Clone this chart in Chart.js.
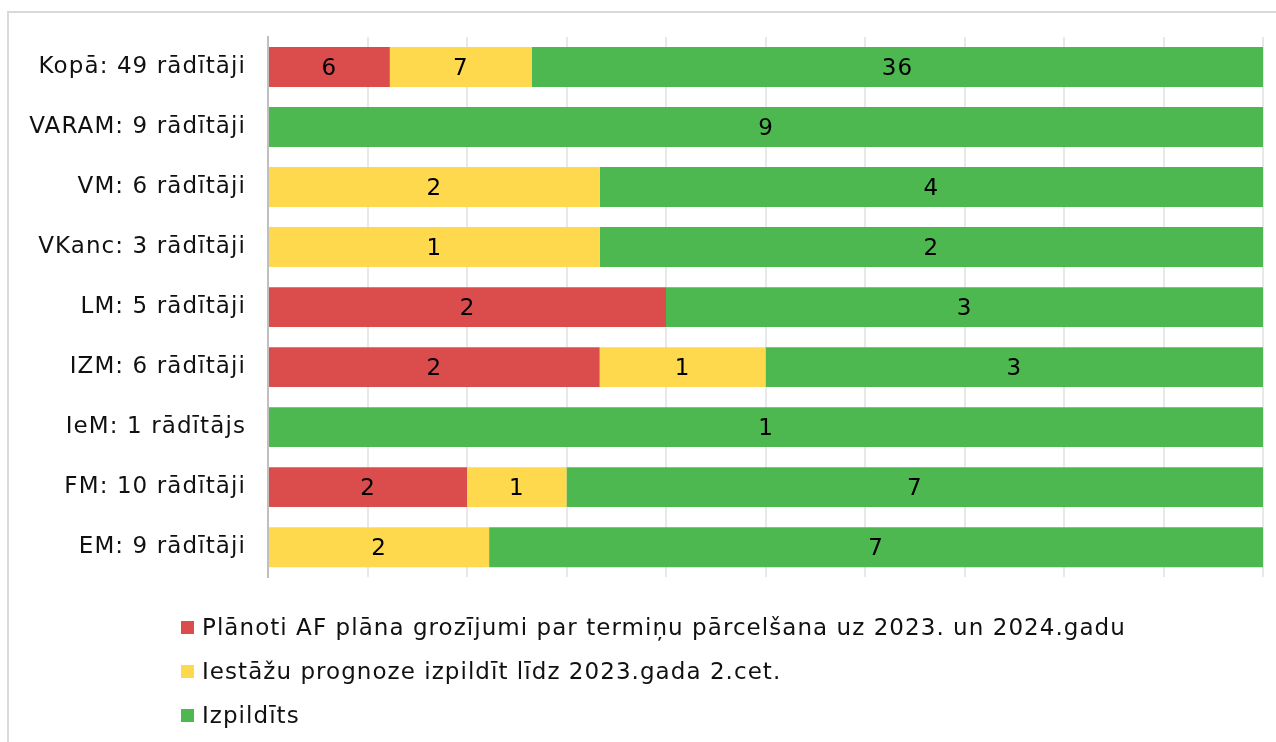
<!DOCTYPE html>
<html>
<head>
<meta charset="utf-8">
<script src="https://cdn.jsdelivr.net/npm/chart.js@4"></script>
<style>
  html, body { margin: 0; padding: 0; background: #fff; width: 1276px; height: 742px; overflow: hidden; }
  #frame { position: absolute; left: 7px; top: 11px; width: 1300px; height: 760px; border: 2px solid #d9d9d9; box-sizing: border-box; }
  #wrap { position: absolute; left: 0; top: 0; width: 1276px; height: 613px; }
  #legend { position: absolute; left: 181px; top: 605px; font-family: "DejaVu Sans", Verdana, sans-serif; font-size: 23px; letter-spacing: 1.05px; color: #111; }
  #legend .item { height: 44px; display: flex; align-items: center; }
  #legend .box { width: 13px; height: 13px; margin-right: 8px; }
</style>
</head>
<body>
<div id="frame"></div>
<div id="wrap"><canvas id="c"></canvas></div>
<div id="legend"></div>
<script>
const categories = [
  "Kopā: 49 rādītāji",
  "VARAM: 9 rādītāji",
  "VM: 6 rādītāji",
  "VKanc: 3 rādītāji",
  "LM: 5 rādītāji",
  "IZM: 6 rādītāji",
  "IeM: 1 rādītājs",
  "FM: 10 rādītāji",
  "EM: 9 rādītāji"
];
const seriesNames = [
  "Plānoti AF plāna grozījumi par termiņu pārcelšana uz 2023. un 2024.gadu",
  "Iestāžu prognoze izpildīt līdz 2023.gada 2.cet.",
  "Izpildīts"
];
const plannedCounts  = [6, 0, 0, 0, 2, 2, 0, 2, 0];
const forecastCounts = [7, 0, 2, 1, 0, 1, 0, 1, 2];
const doneCounts     = [36, 9, 4, 2, 3, 3, 1, 7, 7];
const colors = ["#DB4D4D", "#FFD94D", "#4DB84F"];

const countSets = [plannedCounts, forecastCounts, doneCounts];
const totals = categories.map((_, i) => countSets.reduce((s, a) => s + a[i], 0));

const datasets = countSets.map((counts, k) => ({
  label: seriesNames[k],
  counts: counts,
  data: counts.map((v, i) => v / totals[i] * 100),
  backgroundColor: colors[k],
  borderWidth: 0,
  categoryPercentage: 1,
  barPercentage: 0.665
}));

const FONT = '"DejaVu Sans", Verdana, sans-serif';
const SPACING = '1.1px';

const spacingPlugin = {
  id: 'spacing',
  beforeDraw(chart) { chart.ctx.letterSpacing = SPACING; }
};

const labelPlugin = {
  id: 'segLabels',
  afterDatasetsDraw(chart) {
    const ctx = chart.ctx;
    ctx.save();
    ctx.letterSpacing = SPACING;
    ctx.font = '23px ' + FONT;
    ctx.fillStyle = '#000';
    ctx.textAlign = 'center';
    ctx.textBaseline = 'middle';
    chart.data.datasets.forEach((ds, di) => {
      const meta = chart.getDatasetMeta(di);
      meta.data.forEach((bar, i) => {
        const c = ds.counts[i];
        if (!c) return;
        const x = (bar.x + bar.base) / 2;
        ctx.fillText(String(c), x, bar.y + 2);
      });
    });
    ctx.restore();
  }
};

new Chart(document.getElementById('c'), {
  type: 'bar',
  data: { labels: categories, datasets: datasets },
  options: {
    indexAxis: 'y',
    responsive: true,
    maintainAspectRatio: false,
    animation: false,
    layout: { padding: { left: 0, right: 13, top: 37, bottom: 12 } },
    plugins: {
      legend: { display: false },
      tooltip: { enabled: false }
    },
    scales: {
      x: {
        stacked: true,
        min: 0,
        max: 100,
        z: 1,
        afterFit(scale) { scale.height = 0; },
        ticks: { display: false, stepSize: 10 },
        grid: { color: 'rgba(0,0,0,0.09)', lineWidth: 2, drawTicks: false },
        border: { display: false }
      },
      y: {
        stacked: true,
        afterFit(scale) { scale.width = 268; },
        ticks: { font: { family: FONT, size: 23 }, color: '#111', padding: 22 },
        grid: { display: false, drawTicks: false },
        border: { display: true, color: '#bfbfbf', width: 2 }
      }
    }
  },
  plugins: [spacingPlugin, labelPlugin]
});

const leg = document.getElementById('legend');
seriesNames.forEach((n, k) => {
  const it = document.createElement('div');
  it.className = 'item';
  const b = document.createElement('span');
  b.className = 'box';
  b.style.background = colors[k];
  const t = document.createElement('span');
  t.textContent = n;
  it.appendChild(b); it.appendChild(t);
  leg.appendChild(it);
});
</script>
</body>
</html>
